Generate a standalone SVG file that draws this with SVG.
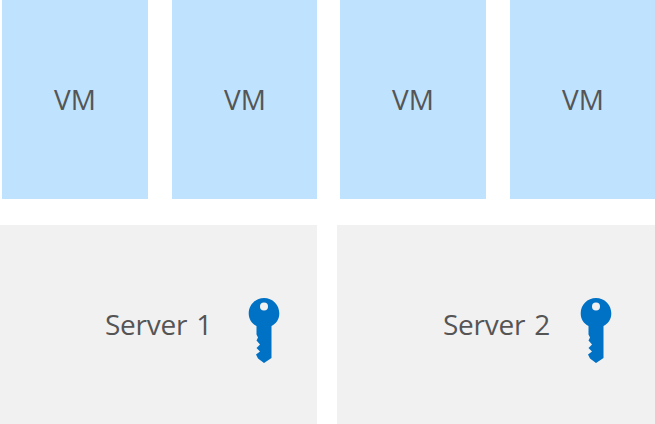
<svg xmlns="http://www.w3.org/2000/svg" width="655" height="424" viewBox="0 0 655 424">
<style>
.vm{fill:#bfe3ff}
.srv{fill:#f1f1f1}
.t{font-family:"Open Sans","Noto Sans","Liberation Sans",sans-serif;font-size:28px;font-weight:400;fill:#555}
.s{word-spacing:2px;letter-spacing:-.25px}
.k{fill:#0072c6}
.h{fill:#f1f1f1}
</style>
<defs>
<g id="key">
<path class="k" d="M0-15.500C8.500-15.500 15.300-8.700 15.300-.2 15.300 5.800 12.300 10.200 7.500 12.500V41.500L7.500 44.500 0 49.500-6 45-8 41-4 38-7.500 34.500-4 31-7.500 27-6 24-7.500 21V12.500C-12.300 10.200-15.300 5.800-15.300-.2-15.300-8.700-8.500-15.500 0-15.500Z"/>
<circle class="h" cy="-7" r="4"/>
</g>
</defs>
<g id="vm1"><rect class="vm" x="2" y="0" width="146" height="199"/><text class="t" x="75" y="110" text-anchor="middle">VM</text></g>
<g id="vm2"><rect class="vm" x="172" y="0" width="145" height="199"/><text class="t" x="245" y="110" text-anchor="middle">VM</text></g>
<g id="vm3"><rect class="vm" x="340" y="0" width="146" height="199"/><text class="t" x="413" y="110" text-anchor="middle">VM</text></g>
<g id="vm4"><rect class="vm" x="510" y="0" width="145" height="199"/><text class="t" x="583" y="110" text-anchor="middle">VM</text></g>
<g id="server1"><rect class="srv" x="0" y="225" width="317" height="199"/><text class="t s" x="105" y="335">Server 1</text><use href="#key" x="264" y="313.500"/></g>
<g id="server2"><rect class="srv" x="337" y="225" width="318" height="199"/><text class="t s" x="443" y="335">Server 2</text><use href="#key" x="596" y="313.500"/></g>
<g id="connectors"></g>
</svg>
